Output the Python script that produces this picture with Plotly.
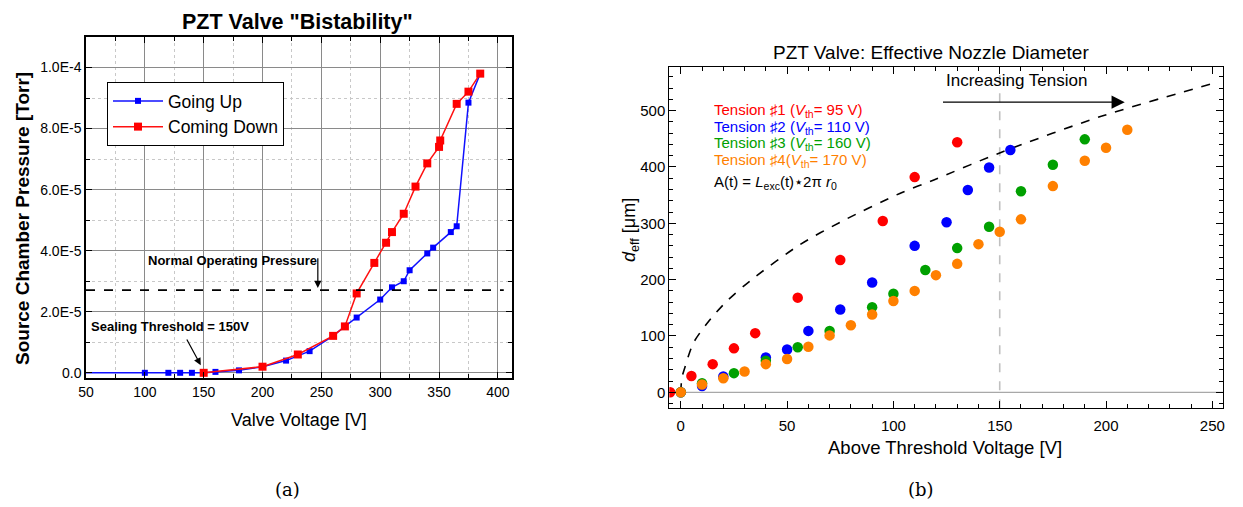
import plotly.graph_objects as go

# ---------------- Left panel data ----------------
up_v = [0, 100, 120, 130, 140, 150, 160, 180, 200, 220, 240, 260, 270, 280, 300, 310,
        320, 325, 340, 345, 360, 365, 375, 385]
up_p = [0, 0, 0, 0, 0, 0, 0.03e-5, 0.08e-5, 0.2e-5, 0.4e-5, 0.71e-5, 1.21e-5, 1.52e-5,
        1.81e-5, 2.4e-5, 2.8e-5, 3.0e-5, 3.36e-5, 3.91e-5, 4.1e-5, 4.61e-5, 4.8e-5,
        8.85e-5, 9.8e-5]
down_v = [150, 200, 230, 260, 270, 280, 295, 305, 310, 320, 330, 340, 350, 351, 365, 375, 385]
down_p = [0, 0.2e-5, 0.6e-5, 1.21e-5, 1.52e-5, 2.6e-5, 3.6e-5, 4.26e-5, 4.61e-5, 5.21e-5,
          6.1e-5, 6.86e-5, 7.4e-5, 7.61e-5, 8.81e-5, 9.21e-5, 9.8e-5]
normal_pressure = 2.71e-5
left_ytick_vals = [0, 2e-5, 4e-5, 6e-5, 8e-5, 1e-4]
left_ytick_text = ["0.0", "2.0E-5", "4.0E-5", "6.0E-5", "8.0E-5", "1.0E-4"]

# ---------------- Right panel data ----------------
t1_x = [-5, 5, 15, 25, 35, 55, 75, 95, 110, 130]
t1_y = [0, 29, 50, 78, 105, 168, 235, 304, 382, 444]
t2_x = [0, 10, 20, 40, 50, 60, 75, 90, 110, 125, 135, 145, 155]
t2_y = [0, 11, 28, 62, 76, 109, 147, 195, 260, 302, 359, 399, 430]
t3_x = [0, 10, 25, 40, 55, 70, 90, 100, 115, 130, 145, 160, 175, 190]
t3_y = [0, 16, 34, 56, 80, 109, 151, 175, 217, 256, 294, 357, 404, 449]
t4_x = [0, 10, 20, 30, 40, 50, 60, 70, 80, 90, 100, 110, 120, 130, 140, 150, 160, 175,
        190, 200, 210]
t4_y = [0, 14, 25, 37, 50, 59, 81, 101, 119, 138, 162, 180, 208, 228, 263, 285, 307, 366,
        411, 434, 466]
fit_x = [0, 0.5, 2, 6, 14, 22, 33, 56, 75, 103, 119, 150, 197, 251]
fit_y = [0, 25, 45, 88, 130, 163, 199, 262, 302, 353, 377, 425, 489, 549]
right_labels = ["Tension \u266f1 (<i>V</i><sub>th</sub>= 95 V)",
                "Tension \u266f2 (<i>V</i><sub>th</sub>= 110 V)",
                "Tension \u266f3 (<i>V</i><sub>th</sub>= 160 V)",
                "Tension \u266f4(<i>V</i><sub>th</sub>= 170 V)",
                "A(t) = <i>L</i><sub>exc</sub>(t)\u22c62\u03c0 <i>r</i><sub>0</sub>"]
right_colors = ["#ff0000", "#0000ff", "#00a000", "#ff8000", "#000000"]

SANS = "Liberation Sans, Arial, sans-serif"
SERIF = "DejaVu Serif, Liberation Serif, serif"

W, H, OFF = 1243, 507, 8  # page body margin offset


def px(x):
    return (x - OFF) / W


def py(y):
    return 1 - (y - OFF) / H


fig = go.Figure()

# Left traces
fig.add_trace(go.Scatter(x=up_v, y=up_p, mode="lines+markers", name="Going Up",
                         line=dict(color="#1010ff", width=1.5),
                         marker=dict(symbol="square", size=6, color="#0000ff"),
                         xaxis="x", yaxis="y"))
fig.add_trace(go.Scatter(x=down_v, y=down_p, mode="lines+markers", name="Coming Down",
                         line=dict(color="#ff1010", width=1.5),
                         marker=dict(symbol="square", size=8, color="#ff0000"),
                         xaxis="x", yaxis="y"))

# Right traces
fig.add_trace(go.Scatter(x=fit_x, y=fit_y, mode="lines", showlegend=False,
                         line=dict(color="black", width=1.6, dash="dash", shape="spline",
                                   smoothing=0.8),
                         xaxis="x2", yaxis="y2"))
for xs, ys, c in [(t1_x, t1_y, right_colors[0]), (t2_x, t2_y, right_colors[1]),
                  (t3_x, t3_y, right_colors[2]), (t4_x, t4_y, right_colors[3])]:
    fig.add_trace(go.Scatter(x=xs, y=ys, mode="markers", showlegend=False,
                             marker=dict(size=10.5, color=c, line=dict(width=0)),
                             xaxis="x2", yaxis="y2"))

ax_common = dict(showline=True, linecolor="black", mirror="ticks", zeroline=False,
                 ticks="inside", tickcolor="black", automargin=False)
left_font = dict(family=SANS, size=14, color="black")
right_font = dict(family=SANS, size=15, color="black")

fig.update_layout(
    width=W, height=H,
    margin=dict(l=0, r=0, t=0, b=0, pad=0, autoexpand=False),
    paper_bgcolor="white", plot_bgcolor="white",
    font=dict(family=SANS, color="black"),
    xaxis=dict(domain=[px(86), px(512)], range=[50, 412], tick0=50, dtick=50,
               showgrid=True, gridcolor="#8a8a8a", gridwidth=1, linewidth=1.5,
               ticklen=6, tickfont=left_font,
               minor=dict(tick0=50, dtick=25, showgrid=True, gridcolor="#c8c8c8",
                          griddash="dot", ticks="inside", ticklen=4, tickcolor="black"),
               anchor="y", **ax_common),
    yaxis=dict(domain=[py(378), py(37)], range=[-1.7e-6, 1.1e-4],
               tickmode="array", tickvals=left_ytick_vals, ticktext=left_ytick_text,
               showgrid=True, gridcolor="#8a8a8a", gridwidth=1, linewidth=1.5,
               ticklen=6, tickfont=left_font,
               minor=dict(tickmode="array", tickvals=[1e-5, 3e-5, 5e-5, 7e-5, 9e-5, 1.1e-4],
                          showgrid=True, gridcolor="#c8c8c8", griddash="dot",
                          ticks="inside", ticklen=4, tickcolor="black"),
               anchor="x", **ax_common),
    xaxis2=dict(domain=[px(669.3), px(1223.4)], range=[-5.4, 255.2], tick0=0, dtick=50,
                showgrid=False, linewidth=1, ticklen=7, tickfont=right_font,
                ticklabelstandoff=4,
                minor=dict(tick0=0, dtick=10, ticks="inside", ticklen=4, tickcolor="black"),
                anchor="y2", **ax_common),
    yaxis2=dict(domain=[py(408.3), py(66.7)], range=[-28.4, 578], tick0=0,
                dtick=100, showgrid=False, linewidth=1, ticklen=7, tickfont=right_font,
                minor=dict(tick0=0, dtick=20, ticks="inside", ticklen=4, tickcolor="black"),
                anchor="x2", **ax_common),
    legend=dict(x=px(107), y=py(82), xanchor="left", yanchor="top",
                bordercolor="black", borderwidth=1, bgcolor="white",
                font=dict(family=SANS, size=17.5, color="black"),
                tracegroupgap=0, itemwidth=50),
)

shapes = [
    dict(type="line", xref="x", yref="y", x0=50, x1=405, y0=normal_pressure, y1=normal_pressure,
         line=dict(color="black", width=1.6, dash="dash")),
    dict(type="line", xref="x2 domain", yref="y2", x0=0, x1=1, y0=0, y1=0,
         line=dict(color="#a8a8a8", width=1.2), layer="below"),
    dict(type="line", xref="x2", yref="y2 domain", x0=150, x1=150, y0=0, y1=1,
         line=dict(color="#c0c0c0", width=1.6, dash="dash"), layer="below"),
]
fig.update_layout(shapes=shapes)


def ptext(text, x, y, size, family=SANS, angle=0, xanchor="center"):
    return dict(text=text, xref="paper", yref="paper", x=px(x), y=py(y), showarrow=False,
                textangle=angle, font=dict(family=family, size=size, color="black"),
                xanchor=xanchor, yanchor="middle")


ann = []
# Titles
ann.append(ptext("<b>PZT Valve \"Bistability\"</b>", 297.5, 22, 21.5))
ann.append(ptext("PZT Valve: Effective Nozzle Diameter", 931, 52, 19))
# Axis titles
ann.append(ptext("<b>Source Chamber Pressure [Torr]</b>", 22, 219, 19, angle=-90))
ann.append(ptext("Valve Voltage [V]", 299, 420, 18))
ann.append(ptext("<i>d</i><sub>eff</sub> [\u03bcm]", 630, 230, 18, angle=-90))
ann.append(ptext("Above Threshold Voltage [V]", 945, 447, 18.5))
# Captions
ann.append(ptext("(a)", 287, 489, 18, family=SERIF))
ann.append(ptext("(b)", 921, 489, 18, family=SERIF))
# Left annotations
ann.append(dict(text="<b>Normal Operating Pressure</b>", xref="x", yref="y", x=174.5, y=3.67e-5,
                showarrow=False, font=dict(family=SANS, size=13, color="black")))
ann.append(dict(text="", xref="x", yref="y", x=247, y=2.78e-5, ax=247, ay=3.8e-5,
                axref="x", ayref="y", showarrow=True, arrowhead=2, arrowsize=1.2,
                arrowwidth=1.2, arrowcolor="black"))
ann.append(dict(text="<b>Sealing Threshold = 150V</b>", xref="x", yref="y", x=121.8, y=1.51e-5,
                showarrow=False, font=dict(family=SANS, size=13, color="black")))
ann.append(dict(text="", xref="x", yref="y", x=147.5, y=0.25e-5, ax=135, ay=1.14e-5,
                axref="x", ayref="y", showarrow=True, arrowhead=2, arrowsize=1.2,
                arrowwidth=1.2, arrowcolor="black"))
# Right annotations
label_y = [500, 470.5, 440.9, 411.2, 372.2]
for t, c, yy in zip(right_labels, right_colors, label_y):
    ann.append(dict(text=t, xref="x2", yref="y2", x=14.5, y=yy, xanchor="left",
                    yanchor="middle", showarrow=False,
                    font=dict(family=SANS, size=15, color=c)))
ann.append(dict(text="Increasing Tension", xref="x2", yref="y2", x=157.7, y=553.3,
                showarrow=False, font=dict(family=SANS, size=17, color="black")))
ann.append(dict(text="", xref="x2", yref="y2", x=208.8, y=515, ax=122.6, ay=515,
                axref="x2", ayref="y2", showarrow=True, arrowhead=2, arrowsize=2.2,
                arrowwidth=1.2, arrowcolor="black"))
fig.update_layout(annotations=ann)

fig.write_html("out.html")
